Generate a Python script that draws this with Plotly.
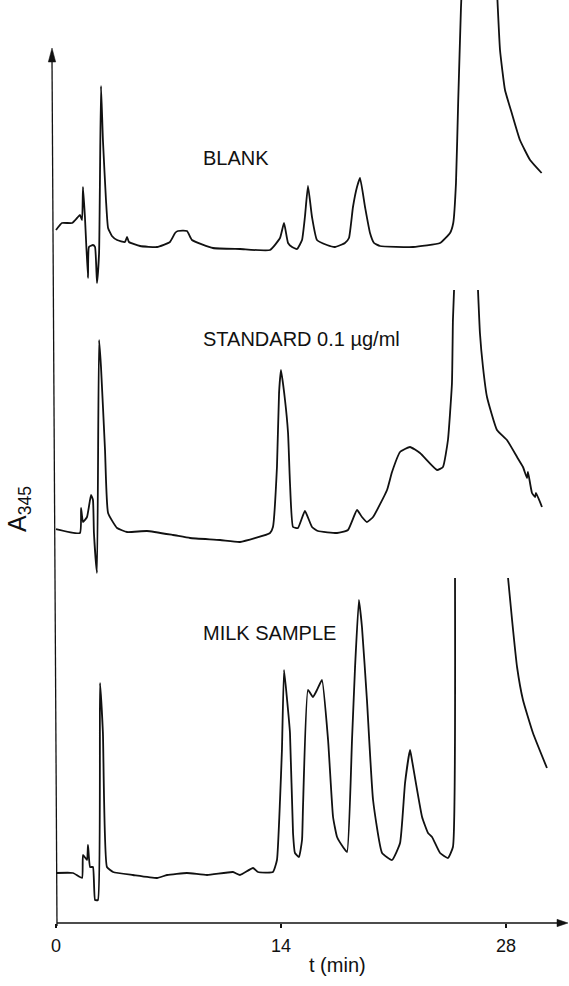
import plotly.graph_objects as go

# ---------------- data (t in min, absorbance in arbitrary units, traces offset as drawn) -------------
blank_t = [0.0, 0.37, 1.00, 1.31, 1.49, 1.62, 1.68, 1.80, 1.99, 2.05, 2.30, 2.43, 2.55, 2.68, 2.80,
           2.92, 3.11, 3.24, 3.48, 3.80, 4.29, 4.42, 4.54, 5.23, 6.29, 7.09, 7.41, 7.59, 8.15, 8.46,
           9.77, 11.45, 13.32, 13.94, 14.19, 14.44, 14.69, 15.00, 15.31, 15.49, 15.68, 15.93, 16.24,
           16.86, 17.36, 17.98, 18.23, 18.48, 18.73, 18.92, 19.23, 19.54, 19.79, 20.16, 22.22, 23.90,
           24.52, 24.72, 24.89, 25.03, 25.20, 25.22, None,
           27.47, 27.49, 27.63, 27.94, 28.36, 28.87, 29.50, 30.22]
blank_a = [6.93, 7.00, 7.00, 7.05, 7.08, 7.03, 7.36, 7.06, 6.45, 6.76, 6.78, 6.76, 6.40, 6.70, 8.37,
           7.83, 7.23, 6.95, 6.87, 6.83, 6.81, 6.86, 6.81, 6.77, 6.76, 6.81, 6.90, 6.92, 6.92, 6.83,
           6.75, 6.74, 6.73, 6.85, 7.00, 6.80, 6.76, 6.74, 6.83, 7.06, 7.37, 7.06, 6.83,
           6.78, 6.76, 6.80, 6.85, 7.16, 7.36, 7.45, 7.16, 6.90, 6.80, 6.77, 6.76, 6.80,
           6.90, 7.00, 7.40, 8.23, 9.15, 9.23, None,
           9.23, 9.16, 8.73, 8.33, 8.10, 7.83, 7.63, 7.50]

std_t = [0.0, 1.49, 1.56, 1.68, 1.93, 2.18, 2.30, 2.36, 2.55, 2.68, 2.80, 3.05, 3.24, 3.80, 4.42,
         5.66, 7.28, 8.34, 10.21, 11.45, 13.32, 13.50, 13.75, 13.88, 14.00, 14.25, 14.44, 14.56,
         14.75, 15.06, 15.49, 15.93, 16.30, 17.49, 18.17, 18.73, 19.04, 19.35, 19.73, 20.60, 20.91,
         21.41, 22.03, 22.65, 23.71, 24.08, 24.39, 24.64, 24.70, 24.77, None,
         26.26, 26.38, 26.57, 26.82, 27.44, 28.06, 28.69, 29.06, 29.31, 29.37, 29.62, 29.81, 29.87, 30.24]
std_a = [3.94, 3.90, 4.15, 4.01, 4.06, 4.28, 4.23, 3.90, 3.50, 5.83, 5.56, 4.73, 4.10, 3.95, 3.91,
         3.92, 3.88, 3.85, 3.83, 3.81, 3.90, 3.96, 4.56, 5.30, 5.53, 5.23, 4.90, 4.40,
         3.96, 3.95, 4.12, 3.96, 3.92, 3.90, 3.93, 4.13, 4.06, 4.01, 4.06, 4.33, 4.51,
         4.71, 4.76, 4.70, 4.53, 4.56, 4.83, 5.40, 6.03, 6.33, None,
         6.33, 5.90, 5.56, 5.26, 4.93, 4.83, 4.66, 4.56, 4.45, 4.51, 4.30, 4.26, 4.30, 4.16]

milk_t = [0.0, 1.06, 1.62, 1.68, 1.93, 1.99, 2.12, 2.30, 2.43, 2.61, 2.74, 2.92, 3.17, 3.55, 4.79,
          6.29, 6.91, 8.15, 9.40, 11.01, 11.45, 12.26, 12.57, 13.50, 13.75, 13.94, 14.06, 14.19,
          14.38, 14.56, 14.75, 14.87, 15.12, 15.31, 15.37, 15.68, 15.99, 16.24, 16.55, 16.93, 17.24,
          17.49, 17.86, 18.11, 18.42, 18.61, 18.85, 19.04, 19.35, 19.73, 20.29, 20.91, 21.41, 21.72,
          22.03, 22.15, 22.78, 23.15, 23.40, 23.90, 24.39, 24.70, 24.83, None,
          28.13, 28.38, 28.69, 29.06, 29.68, 30.55]
milk_a = [0.50, 0.50, 0.45, 0.68, 0.63, 0.78, 0.56, 0.56, 0.23, 0.23, 2.40, 1.90, 0.56, 0.51, 0.48,
          0.45, 0.48, 0.50, 0.48, 0.51, 0.48, 0.55, 0.51, 0.51, 0.63, 1.23, 1.73, 2.53,
          2.23, 1.90, 0.90, 0.70, 0.66, 0.83, 1.16, 2.33, 2.26, 2.33, 2.43, 1.83, 1.06,
          0.86, 0.76, 0.71, 1.83, 2.56, 3.23, 2.96, 2.23, 1.23, 0.70, 0.63, 0.80, 1.40,
          1.73, 1.63, 1.06, 0.90, 0.86, 0.70, 0.65, 0.76, 3.45, None,
          3.45, 3.03, 2.56, 2.23, 1.90, 1.55]

trace_labels = ["BLANK", "STANDARD 0.1 µg/ml", "MILK SAMPLE"]
label_t = [9.05, 9.05, 9.05]
label_a = [7.655, 5.84, 2.90]

tick_vals = [0, 14, 28]
tick_text = ["0", "14", "28"]
x_title = "t (min)"
y_title = "A<sub>345</sub>"

# ---------------- layout geometry ----------------
W, H = 569, 986
ML, MR, MT, MB = 50, 0, 0, 63
PX_PER_MIN = 16.07
T0_PX = 56
x_range = [(ML - T0_PX) / PX_PER_MIN, (W - MR - T0_PX) / PX_PER_MIN]
y_range = [0, (H - MB - MT) / 100.0]
PW = W - ML - MR
PH = H - MT - MB


def px2paper(px, py):
    return (px - ML) / PW, (H - MB - py) / PH


FONT = "Liberation Sans, Arial, Helvetica, sans-serif"
INK = "#111111"

fig = go.Figure()
for tt, aa in [(blank_t, blank_a), (std_t, std_a), (milk_t, milk_a)]:
    fig.add_trace(go.Scatter(x=tt, y=aa, mode="lines", connectgaps=False,
                             line=dict(color=INK, width=1.8, shape="spline", smoothing=0.4),
                             hoverinfo="skip", showlegend=False))

for txt, lt, la in zip(trace_labels, label_t, label_a):
    fig.add_annotation(x=lt, y=la, xref="x", yref="y", text=txt, showarrow=False,
                       xanchor="left", yanchor="middle",
                       font=dict(family=FONT, size=20, color=INK))

# axis lines and arrowheads
shapes = []
x0, y0 = px2paper(57, 923)
x1, y1 = px2paper(560, 923)
shapes.append(dict(type="line", xref="paper", yref="paper", x0=x0, y0=y0, x1=x1, y1=y1,
                   line=dict(color=INK, width=1.3)))
ax_tip = px2paper(568, 923)
ax_b1 = px2paper(557, 919.3)
ax_b2 = px2paper(557, 926.7)
shapes.append(dict(type="path", xref="paper", yref="paper",
                   path=f"M {ax_tip[0]},{ax_tip[1]} L {ax_b1[0]},{ax_b1[1]} L {ax_b2[0]},{ax_b2[1]} Z",
                   fillcolor=INK, line=dict(color=INK, width=0.5)))
ya0 = px2paper(57, 926)
ya1 = px2paper(52, 58)
shapes.append(dict(type="line", xref="paper", yref="paper", x0=ya0[0], y0=ya0[1], x1=ya1[0], y1=ya1[1],
                   line=dict(color=INK, width=1.3)))
ay_tip = px2paper(52, 48)
ay_b1 = px2paper(48.3, 62)
ay_b2 = px2paper(55.7, 62)
shapes.append(dict(type="path", xref="paper", yref="paper",
                   path=f"M {ay_tip[0]},{ay_tip[1]} L {ay_b1[0]},{ay_b1[1]} L {ay_b2[0]},{ay_b2[1]} Z",
                   fillcolor=INK, line=dict(color=INK, width=0.5)))

yt = px2paper(19, 509)
fig.add_annotation(x=yt[0], y=yt[1], xref="paper", yref="paper", text=y_title, showarrow=False,
                   textangle=-90, xanchor="center", yanchor="middle",
                   font=dict(family=FONT, size=25, color=INK))
xt = px2paper(337, 965)
fig.add_annotation(x=xt[0], y=xt[1], xref="paper", yref="paper", text=x_title, showarrow=False,
                   xanchor="center", yanchor="middle",
                   font=dict(family=FONT, size=20, color=INK))

fig.update_layout(
    width=W, height=H,
    margin=dict(l=ML, r=MR, t=MT, b=MB, pad=0),
    paper_bgcolor="white", plot_bgcolor="white",
    shapes=shapes,
    xaxis=dict(range=x_range, showgrid=False, zeroline=False, showline=False,
               tickmode="array", tickvals=tick_vals, ticktext=tick_text,
               ticks="outside", ticklen=4, tickwidth=1.2, tickcolor=INK,
               tickfont=dict(family=FONT, size=18, color=INK), ticklabelstandoff=2),
    yaxis=dict(range=y_range, visible=False, showgrid=False, zeroline=False),
)

fig.write_html("out.html", config={"displayModeBar": False, "staticPlot": True},
               post_script="document.body.style.margin='0px';document.body.style.overflow='hidden';")
